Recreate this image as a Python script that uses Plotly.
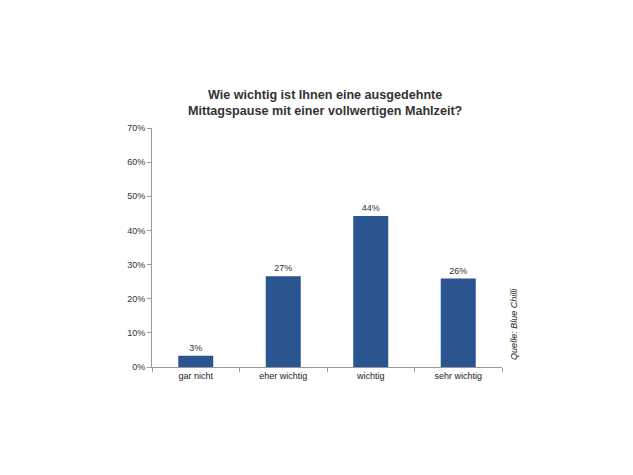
import plotly.graph_objects as go

categories = ["gar nicht", "eher wichtig", "wichtig", "sehr wichtig"]
values = [3.3, 26.6, 44.2, 25.9]
labels = ["3%", "27%", "44%", "26%"]
y_ticks = [0, 10, 20, 30, 40, 50, 60, 70]
y_tick_labels = [f"{v}%" for v in y_ticks]

fig = go.Figure(go.Bar(
    x=categories, y=values, text=labels, textposition="outside",
    textfont=dict(size=9, color="#333333", family="Liberation Sans, Arial"),
    marker=dict(color="#2a5591", line=dict(width=0)), width=0.4, cliponaxis=False,
))

fig.update_layout(
    width=633, height=475,
    margin=dict(l=144, r=139, t=120, b=116),
    paper_bgcolor="white", plot_bgcolor="white",
    showlegend=False,
    font=dict(family="Liberation Sans, Arial", size=9, color="#333333"),
    title=dict(
        text="<b>Wie wichtig ist Ihnen eine ausgedehnte<br>Mittagspause mit einer vollwertigen Mahlzeit?</b>",
        x=0.501, xanchor="center", y=0.809, yanchor="middle",
        font=dict(size=12.6, color="#333333", family="Liberation Sans, Arial"),
    ),
    xaxis=dict(
        showline=True, linecolor="#9a9a9a", linewidth=1,
        ticks="outside", tickson="boundaries", ticklen=4, tickcolor="#9a9a9a",
        showgrid=False, tickfont=dict(size=9, color="#222222"),
    ),
    yaxis=dict(
        range=[0, 70], tickvals=y_ticks, ticktext=y_tick_labels,
        showline=True, linecolor="#9a9a9a", linewidth=1,
        ticks="outside", ticklen=4, tickcolor="#9a9a9a",
        showgrid=False, zeroline=False, tickfont=dict(size=9, color="#333333"),
    ),
    annotations=[dict(
        text="<i>Quelle: Blue Chilli</i>", textangle=-90,
        xref="paper", yref="paper", x=1.034, y=0.021, xanchor="center", yanchor="bottom",
        showarrow=False, font=dict(size=9, color="#222222"),
    )],
)

fig.write_html("out.html")
